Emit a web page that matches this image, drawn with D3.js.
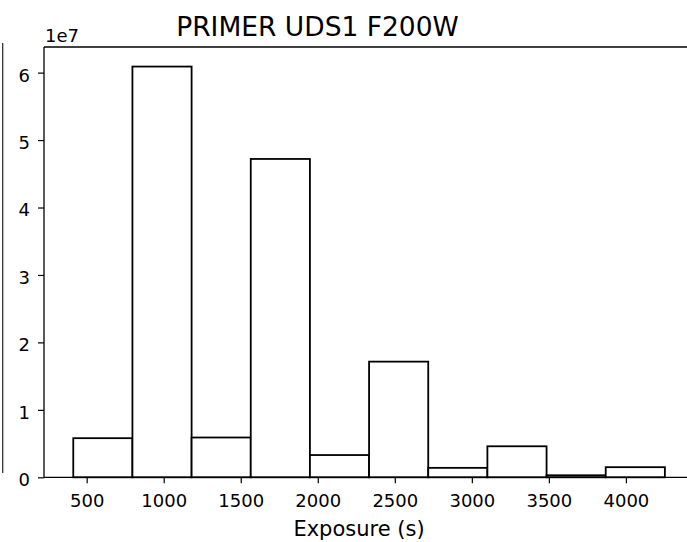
<!DOCTYPE html>
<html>
<head>
<meta charset="utf-8">
<script src="https://cdn.jsdelivr.net/npm/d3@7"></script>
<style>
  html, body { margin: 0; padding: 0; background: #fff; }
  svg { display: block; font-family: "DejaVu Sans", sans-serif; }
</style>
</head>
<body>
<svg id="chart" width="687" height="542"></svg>
<script>
// Data
const binEdges = [413, 797, 1181, 1565, 1949, 2333, 2717, 3101, 3485, 3869, 4253];
const counts = [0.58e7, 6.09e7, 0.59e7, 4.72e7, 0.33e7, 1.715e7, 0.14e7, 0.46e7, 0.03e7, 0.15e7];
const xTicks = [500, 1000, 1500, 2000, 2500, 3000, 3500, 4000];
const yTicks = [0, 1e7, 2e7, 3e7, 4e7, 5e7, 6e7];
const title = "PRIMER UDS1 F200W";
const xLabel = "Exposure (s)";

(function () {
const svg = d3.select("#chart");
const pL = 44, pR = 696, pT = 47, pB = 477.3;

const x = d3.scaleLinear().domain([223, 4455]).range([pL, pR]);
const y = d3.scaleLinear().domain([0, 6.38e7]).range([pB, pT]);

// fragment of neighbouring panel at left edge
svg.append("line").attr("x1", 2.7).attr("x2", 2.7).attr("y1", 43).attr("y2", 473)
  .attr("stroke", "#333").attr("stroke-width", 1.3);

// bars
const bins = counts.map((c, i) => ({x0: binEdges[i], x1: binEdges[i + 1], v: c}));
svg.append("g").selectAll("rect").data(bins).join("rect")
  .attr("x", d => x(d.x0))
  .attr("width", d => x(d.x1) - x(d.x0))
  .attr("y", d => y(d.v))
  .attr("height", d => y(0) - y(d.v))
  .attr("fill", "#fff")
  .attr("stroke", "#000")
  .attr("stroke-width", 1.8);

// axes
const xAxis = d3.axisBottom(x).tickValues(xTicks).tickSize(6).tickPadding(8).tickFormat(d3.format("d"));
const yAxis = d3.axisLeft(y).tickValues(yTicks).tickSize(6).tickPadding(8).tickFormat(d => d3.format("d")(d / 1e7));

const gx = svg.append("g").attr("transform", `translate(0,${pB})`).call(xAxis);
const gy = svg.append("g").attr("transform", `translate(${pL},0)`).call(yAxis);
[gx, gy].forEach(g => {
  g.select(".domain").remove();
  g.selectAll(".tick line").attr("stroke", "#000").attr("stroke-width", 1.2);
  g.selectAll(".tick text").attr("fill", "#000").style("font-size", "18px")
    .style("font-family", "DejaVu Sans, sans-serif");
});
gx.selectAll(".tick text").attr("dy", "0.71em").attr("y", 16.5);
gy.selectAll(".tick text").attr("dy", "0.47em");

// spines
const spine = (x1, y1, x2, y2) => svg.append("line").attr("x1", x1).attr("y1", y1)
  .attr("x2", x2).attr("y2", y2).attr("stroke", "#000").attr("stroke-width", 1.3);
spine(pL, pT, pL, pB);
spine(pL, pB, pR, pB);
spine(pL, pT, pR, pT);
spine(pR, pT, pR, pB);

// offset text
svg.append("text").attr("x", 45).attr("y", 41.5).attr("font-size", 18).attr("fill", "#000").text("1e7");

// title
svg.append("text").attr("x", 317.5).attr("y", 36).attr("text-anchor", "middle")
  .attr("font-size", 26.5).attr("fill", "#000").text(title);

// x label
svg.append("text").attr("x", 359).attr("y", 536).attr("text-anchor", "middle")
  .attr("font-size", 21).attr("fill", "#000").text(xLabel);
})();
</script>
</body>
</html>
